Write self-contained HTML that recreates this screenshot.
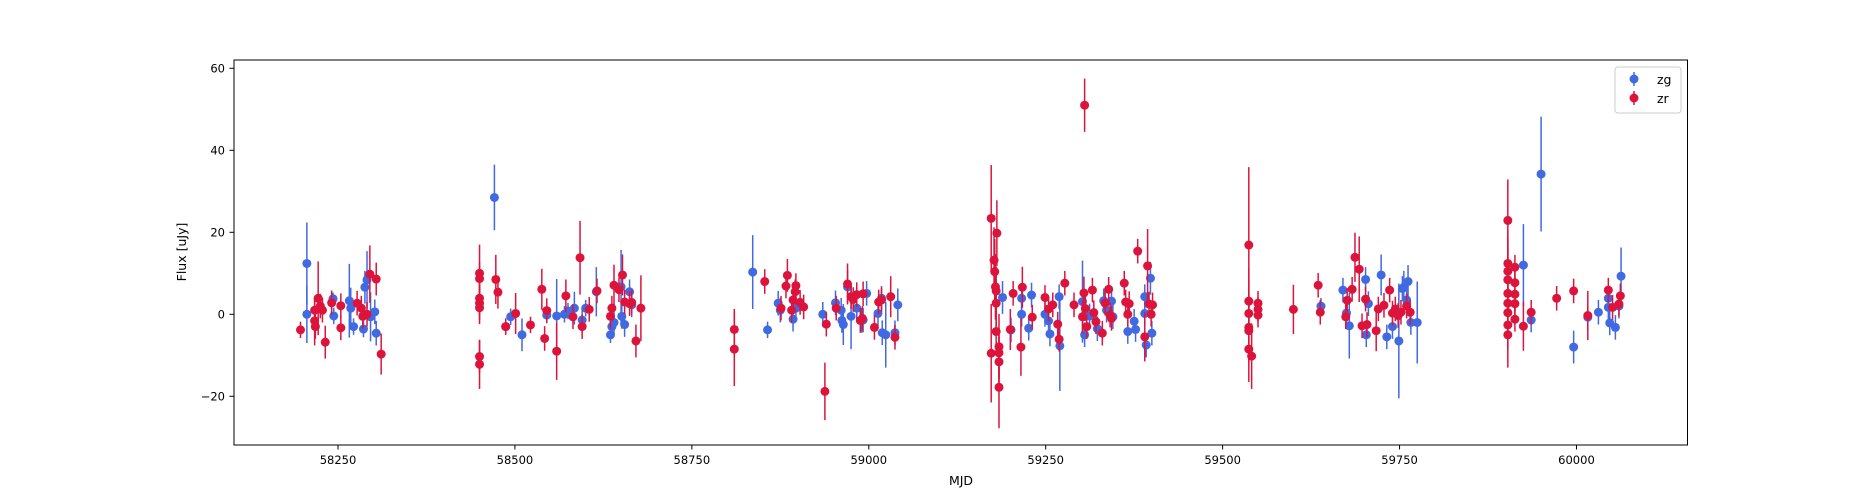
<!DOCTYPE html>
<html><head><meta charset="utf-8"><style>
body{margin:0;background:#fff}
svg{display:block;font-family:"DejaVu Sans","Liberation Sans",sans-serif}
</style></head><body>
<svg id="chart" width="1875" height="500" xmlns="http://www.w3.org/2000/svg">
<rect width="1875" height="500" fill="#fff"/>
<g id="marks"></g>
<rect x="234" y="60" width="1453.5" height="385" fill="none" stroke="#000" stroke-width="1"/>
<g id="axes"></g>
<text x="961" y="485" font-size="12.5" text-anchor="middle">MJD</text>
<text transform="translate(186,252) rotate(-90)" font-size="12.5" text-anchor="middle">Flux [uJy]</text>
<g>
<rect x="1615" y="67" width="66" height="46" rx="3" fill="#fff" stroke="#ccc" stroke-width="1"/>
<g>
<line x1="1634" y1="72" x2="1634" y2="86" stroke="#4169E1" stroke-width="1.5"/>
<circle cx="1634" cy="79" r="4.5" fill="#4169E1"/>
<text x="1657" y="84" font-size="12.5">zg</text></g>
<g>
<line x1="1634" y1="91" x2="1634" y2="105" stroke="#DC143C" stroke-width="1.5"/>
<circle cx="1634" cy="98" r="4.5" fill="#DC143C"/>
<text x="1657" y="103" font-size="12.5">zr</text></g>
</g>
</svg>
<script>
const xTicks=[58250,58500,58750,59000,59250,59500,59750,60000];
const yTicks=[-20,0,20,40,60];
const zgMjd=[58206,58206,58243,58244,58266,58268,58272,58286,58288,58291,58296,58302,58304,58471,58487,58494,58510,58545,58559,58570,58575,58584,58595,58600,58615,58635,58637,58640,58650,58651,58655,58662,58665,58836,58857,58872,58875,58893,58897,58935,58953,58961,58962,58964,58970,58975,58983,58990,58997,58992,59013,59018,59019,59024,59037,59041,59189,59201,59216,59216,59226,59230,59249,59254,59256,59269,59270,59302,59305,59312,59323,59332,59336,59343,59345,59366,59375,59377,59390,59390,59392,59398,59400,59639,59670,59675,59679,59702,59706,59703,59724,59732,59740,59749,59754,59756,59762,59760,59766,59775,59925,59936,59950,59996,60016,60031,60045,60045,60047,60055,60060,60063];
const zgFlux=[12.4,0,3.8,-0.4,3.3,1.5,-3,-3.6,6.6,8.4,-0.6,0.6,-4.6,28.5,-3,-0.6,-5,-0.2,-0.4,0,0.8,1.5,-1.4,1.5,5.5,-5,-3,-2,6.7,-0.5,-2.5,5.5,2.3,10.3,-3.8,2.7,1,-1.2,1.5,0,2.8,1,-1.5,-2.5,6.7,-0.5,1.5,-1.5,5.1,-1.4,0.2,3.9,-4.5,-5,-4.5,2.3,4.1,-3.8,3.9,0,-3.4,4.7,0,-1.6,-4.8,4.3,-7.7,3.1,-5,-0.4,-3.5,3.3,1,3.2,-0.6,-4.2,-1.7,-3.7,4.3,0.2,-7.5,8.8,-4.6,2,5.9,0.3,-2.8,8.5,2.6,-5,9.6,-5.5,-3,-6.5,6.3,6.6,8,3.5,-2,-2,12,-1.4,34.2,-8,-0.7,0.5,3.9,1.7,-2.1,-3.2,2,9.3];
const zgErr=[10,7,1.5,2,9,5,2,2,4,7,6,3,3,8,2,2,4,2,9,2,2,4,3,2,6,2,3,3,9,3,3,3,3,9,2,3,3,3,3,3,3,3,3,5,4,8,3,3,3,3,3,3,3,8,3,4,4,3,3,3,3,3,3,3,3,3,11,10,3,3,3,3,3,3,3,3,3,3,3,3,3,4,3,2,3,3,8,3,3,3,5,3,3,14,3,4,4,3,3,10,10,3,14,4,3,3,3,3,3,3,3,7];
const zrMjd=[58197,58217,58217,58218,58222,58225,58228,58232,58241,58254,58254,58277,58283,58285,58291,58295,58304,58311,58450,58450,58450,58450,58450,58450,58450,58473,58476,58487,58501,58522,58538,58542,58545,58559,58572,58582,58592,58595,58605,58616,58635,58637,58640,58647,58652,58655,58662,58665,58671,58678,58810,58810,58853,58876,58883,58885,58891,58893,58896,58897,58903,58908,58938,58940,58954,58970,58975,58978,58983,58988,58992,58991,59008,59014,59018,59031,59037,59173,59181,59177,59178,59179,59180,59180,59180,59173,59184,59184,59184,59184,59200,59204,59217,59215,59231,59249,59254,59260,59267,59269,59277,59290,59302,59304,59306,59308,59305,59316,59318,59321,59330,59334,59339,59341,59343,59361,59363,59368,59366,59380,59390,59394,59396,59399,59401,59537,59537,59537,59537,59537,59537,59541,59550,59550,59550,59600,59635,59638,59674,59676,59683,59687,59693,59702,59697,59704,59717,59720,59728,59736,59740,59744,59748,59752,59760,59765,59903,59903,59903,59913,59903,59913,59903,59913,59903,59913,59903,59913,59903,59903,59925,59936,59972,59996,60016,60045,60051,60062,60060];
const zrFlux=[-3.8,1,-1.6,-3,3.9,2,1,-6.8,2.8,2.1,-3.3,2.7,1.5,-0.5,0,9.8,8.6,-9.7,10,8.7,3.9,2.7,1.6,-10.3,-12.2,8.5,5.4,-3,0.2,-2.6,6.1,-5.9,0.9,-9,4.5,-0.6,13.8,-3,1.2,5.7,-0.5,1.5,7.1,6,9.6,3,2.6,2.9,-6.5,1.5,-3.7,-8.5,8,1.5,6.9,9.5,1,3.5,5.5,7,2.9,1.8,-18.8,-2.4,1.5,7.4,4.3,3.6,4.8,-1.5,5,-1,-3.2,3,3.5,4.3,-5.6,23.4,19.8,13.2,10.4,6.7,5.7,2.7,-4.2,-9.5,-7.9,-9.4,-11.6,-17.8,-3.7,5.1,6.6,-8,-0.7,4.1,1.3,2.3,-2.4,-6.1,7.6,2.3,-0.6,5.2,1.4,-3,51,5.9,0.4,-1.8,-4.6,2.7,6.1,-0.2,-1,7.6,3,2.6,0,15.4,-5.5,11.8,2.5,0,2.3,16.9,3.2,0.2,-3.2,-4,-8.5,-10.2,2.7,1.2,-0.2,1.2,7.1,0.5,-0.6,3.4,6.1,13.9,11,3.7,-2.8,-2.5,-4,1.3,2.2,5.9,0.3,1.3,-0.3,0.5,2,0.5,22.9,12.4,10.5,11.5,8.4,7.7,5.1,4.9,2.7,2.6,0.4,-1.2,-2.6,-5,-2.9,0.5,3.9,5.7,-0.3,5.9,1.7,4.5,2.5];
const zrErr=[2,3,6,3,9,3,3,4,3,3,3,3,3,3,3,7,4,5,7,4,4,4,4,4,6,6,4,2,5,2,5,3,3,7,4,3,9,3,3,3,3,3,5,3,5,3,3,3,4,8,5,9,3,3,3,4,3,3,3,3,3,3,7,3,3,5,3,3,3,3,3,3,3,3,3,5,3,13,8,8,8,8,6,6,6,12,8,6,6,10,5,3,5,7,3,3,3,3,3,3,3,3,4,4,3,3,6.5,3,3,3,3,3,3,3,3,3,3,3,3,3,6,9,3,3,3,19,8,8,8,8,8,8,3,3,3,6,3,3,3,3,3,6,8,3,3,3,5,3,3,3,3,3,3,3,3,3,10,8,8,3,8,4,6,4,6,3,6,3,6,8,6,3,3,3,6,3,3,3,3];

const NS='http://www.w3.org/2000/svg';
function xs(m){return 338+(m-58250)*0.7077;}
function ys(v){return 314.3-v*4.1;}
function mk(tag,attrs,parent){const e=document.createElementNS(NS,tag);for(const k in attrs)e.setAttribute(k,attrs[k]);parent.appendChild(e);return e;}
const marks=document.getElementById('marks');
function series(name,mjd,flux,err,color){
  const g=mk('g',{},marks);
  
  
  for(let i=0;i<mjd.length;i++){
    const x=xs(mjd[i]);
    const l=mk('line',{x1:x,x2:x,y1:ys(flux[i]+err[i]),y2:ys(flux[i]-err[i]),stroke:color,'stroke-width':1.5},g);
    
    
    const c=mk('circle',{cx:x,cy:ys(flux[i]),r:4.5,fill:color},g);
    
    
  }
}
series('zg',zgMjd,zgFlux,zgErr,'#4169E1');
series('zr',zrMjd,zrFlux,zrErr,'#DC143C');
const axes=document.getElementById('axes');
xTicks.forEach(t=>{
  const x=xs(t);
  const l=mk('line',{x1:x,x2:x,y1:445,y2:449.5,stroke:'#000','stroke-width':1},axes);
  
  
  const tx=mk('text',{x:x,y:464,'font-size':11.5,'text-anchor':'middle'},axes);
  tx.textContent=t;
  
  
});
yTicks.forEach(t=>{
  const y=ys(t);
  const l=mk('line',{x1:229.5,x2:234,y1:y,y2:y,stroke:'#000','stroke-width':1},axes);
  
  
  const tx=mk('text',{x:225,y:y+4,'font-size':11.5,'text-anchor':'end'},axes);
  tx.textContent=(t<0?'\u2212'+(-t):t);
  
  
});
</script>
</body></html>
